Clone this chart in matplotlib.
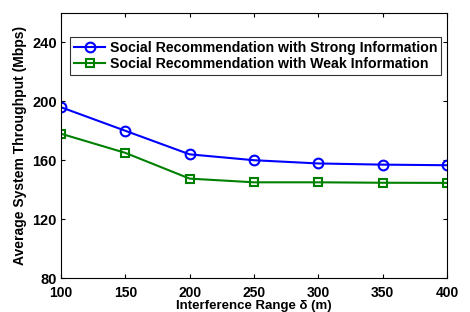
import matplotlib
matplotlib.use("Agg")
import matplotlib.pyplot as plt

x = [100, 150, 200, 250, 300, 350, 400]
strong = [196, 180, 164, 160, 157.8, 157, 156.6]
weak = [178, 165, 147.5, 145, 145, 144.7, 144.6]
labels = ["Social Recommendation with Strong Information",
          "Social Recommendation with Weak Information"]
xticks = [100, 150, 200, 250, 300, 350, 400]
yticks = [80, 120, 160, 200, 240]

plt.rcParams['font.family'] = ['Liberation Sans', 'DejaVu Sans']
plt.rcParams['font.weight'] = 'bold'

fig = plt.figure(figsize=(4.7, 3.12), dpi=100)
ax = fig.add_axes([61/470, 1-278/312, (447-61)/470, (278-13)/312])
ax.plot(x, strong, '-o', color=(0, 0, 1), lw=1.5, ms=7, mfc='none', mew=1.5, label=labels[0])
ax.plot(x, weak, '-s', color=(0, 0.5, 0), lw=1.5, ms=6, mfc='none', mew=1.5, label=labels[1])
ax.set_xlim(100, 400)
ax.set_ylim(80, 260)
ax.set_xticks(xticks)
ax.set_yticks(yticks)
ax.tick_params(direction='in', top=True, right=True, labelsize=10.5, length=3, width=0.8)
ax.tick_params(axis='x', pad=5.5, labelsize=10)
ax.tick_params(axis='y', pad=3)
for lab in ax.get_xticklabels() + ax.get_yticklabels():
    lab.set_fontweight('bold')
ax.set_ylabel("Average System Throughput (Mbps)", fontsize=10, fontweight='bold', labelpad=4)
ax.set_xlabel("Interference Range δ (m)", fontsize=9.5, fontweight='bold', labelpad=0)
leg = ax.legend(loc='upper left', bbox_to_anchor=(9/386, 1-24/265), fontsize=10.2, frameon=True,
                fancybox=False, edgecolor='black', handlelength=2.2, borderpad=0.3,
                labelspacing=0.12, handletextpad=0.3, borderaxespad=0)
leg.get_frame().set_linewidth(0.8)
for t in leg.get_texts():
    t.set_fontweight('bold')
for s in ax.spines.values():
    s.set_linewidth(0.8)
fig.savefig("out.png", dpi=100)
